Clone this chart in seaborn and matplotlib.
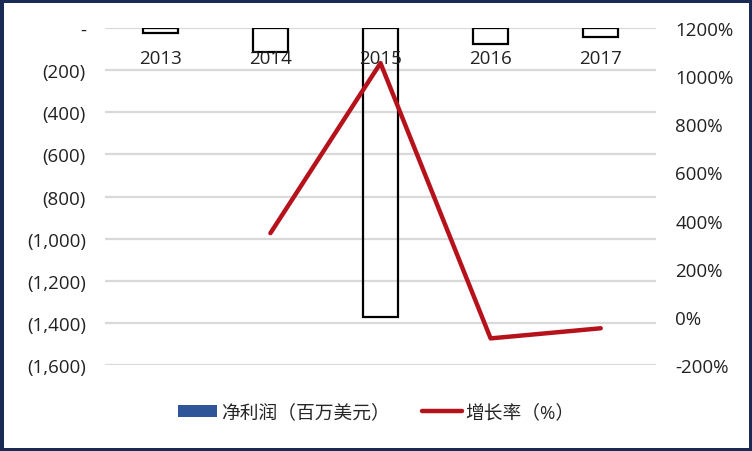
import numpy as np
import pandas as pd
import seaborn as sns
import matplotlib.pyplot as plt
from matplotlib.patches import Patch
from matplotlib.lines import Line2D
from matplotlib.ticker import FuncFormatter

# dados
anos = ["2013", "2014", "2015", "2016", "2017"]
lucro = [-26, -115, -1373, -74, -42]          # 净利润（百万美元）
anos_cresc = ["2014", "2015", "2016", "2017"]
crescimento = [348, 1054, -89, -47]           # 增长率（%）

sns.set_theme(style="white")
plt.rcParams['font.family'] = ['Open Sans', 'Noto Sans CJK SC', 'DejaVu Sans']

fig = plt.figure(figsize=(7.52, 4.52), dpi=100)
fig.patch.set_facecolor('white')
fig.patch.set_edgecolor('#1b2a55')
fig.patch.set_linewidth(5)
ax = fig.add_axes([0.14, 0.19, 0.732, 0.746])

df = pd.DataFrame({"ano": anos, "lucro": lucro})
sns.barplot(data=df, x="ano", y="lucro", ax=ax, color="black", fill=False,
            linewidth=1.6, width=0.32, saturation=1)

ax.set_ylim(-1600, 0)
ax.set_yticks(np.arange(-1600, 1, 200))
ax.yaxis.set_major_formatter(FuncFormatter(lambda v, p: "-" if v == 0 else f"({abs(v):,.0f})"))
ax.yaxis.grid(True, color="#d9d9d9", linewidth=1.6)
ax.set_axisbelow(True)
ax.set_xlim(-0.5, 4.5)
ax.set_xlabel("")
ax.set_ylabel("")
for s in ax.spines.values():
    s.set_visible(False)
ax.tick_params(axis='y', labelsize=13.5, pad=14, colors='#222222', length=0)
ax.tick_params(axis='x', bottom=False, labelbottom=False)

ax2 = ax.twinx()
pos = [anos.index(a) for a in anos_cresc]
sns.lineplot(x=pos, y=crescimento, ax=ax2, color="#b5121b", linewidth=3.2)
ax2.set_ylim(-200, 1200)
ax2.set_yticks(np.arange(-200, 1201, 200))
ax2.yaxis.set_major_formatter(FuncFormatter(lambda v, p: f"{v:.0f}%"))
for s in ax2.spines.values():
    s.set_visible(False)
ax2.tick_params(axis='y', labelsize=13.5, pad=14, colors='#222222', length=0)
ax2.set_xlim(-0.5, 4.5)

# rótulos dos anos por cima das barras
ax2.xaxis.set_visible(True)
ax2.xaxis.tick_top()
ax2.set_xticks(range(len(anos)))
ax2.set_xticklabels(anos)
ax2.tick_params(axis='x', top=True, labeltop=True, bottom=False, labelbottom=False,
                labelsize=13.5, pad=-28, colors='#222222', length=0)

handles = [Patch(facecolor="#2e5597", edgecolor="none"),
           Line2D([0], [0], color="#b5121b", linewidth=3.2)]
fig.legend(handles, ["净利润（百万美元）", "增长率（%）"], loc="center",
           bbox_to_anchor=(0.5, 0.085), ncol=2, frameon=False, fontsize=13.5,
           handlelength=2.1, handleheight=0.55, handletextpad=0.2, columnspacing=1.75)

fig.savefig("out.png", dpi=100)
